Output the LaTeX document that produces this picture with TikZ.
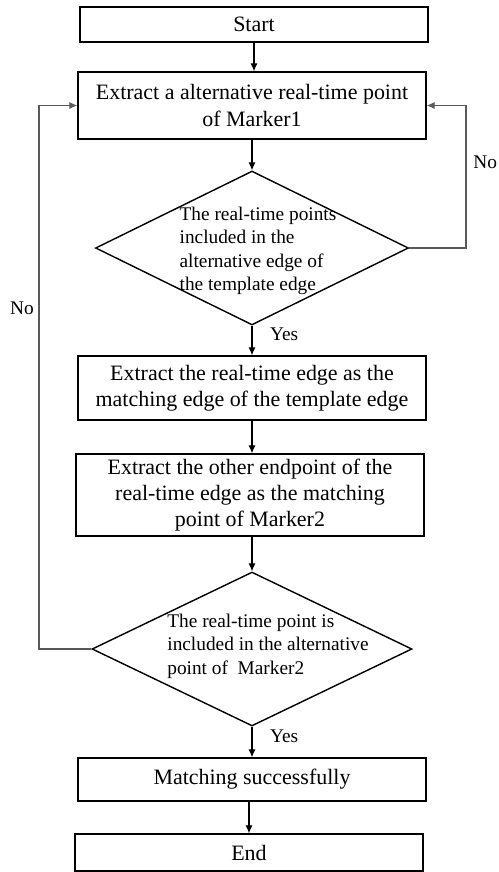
\documentclass[tikz,border=0pt]{standalone}
\usepackage{fontspec}
\setmainfont{Liberation Serif}
\usetikzlibrary{arrows.meta,shapes.geometric}

\begin{document}
\begin{tikzpicture}[x=0.02cm,y=-0.02cm,>={Latex[length=4.5pt,width=4pt]}]
        % Styles
        \tikzstyle{block} = [rectangle, draw, line width=0.8pt,
                             minimum width=6.96cm, inner sep=2pt, align=center,
                             font=\fontsize{12.5}{15}\selectfont]
        \tikzstyle{decision} = [diamond, draw, line width=0.8pt, inner sep=0pt,
                                minimum width=6.26cm, minimum height=3.08cm]
        \tikzstyle{dtext} = [align=left, inner sep=0pt, font=\fontsize{11}{13.3}\selectfont]
        \tikzstyle{tag} = [font=\fontsize{11}{13}\selectfont, inner sep=0pt]
        \tikzstyle{arrow} = [->, line width=0.6pt]
        \tikzstyle{loop} = [->, line width=0.6pt, draw=black!65]

        \useasboundingbox (0,0) rectangle (499,872);

        % ==== Nodes ====
        \node[block, minimum height=0.7cm]  (start)   at (254,24.5)  {Start};
        \node[block, minimum height=1.34cm] (extract) at (252,105.5) {Extract a alternative real-time point\\of Marker1};
        \node[decision] (check1) at (252,248) {};
        \node[dtext]    (check1txt) at (258,251) {The real-time points\\included in the\\alternative edge of\\the template edge};
        \node[block, minimum height=1.28cm] (edge)    at (252,388)   {Extract the real-time edge as the\\matching edge of the template edge};
        \node[block, minimum height=1.64cm] (endpt)   at (250,495)   {Extract the other endpoint of the\\real-time edge as the matching\\point of Marker2};
        \node[decision, minimum width=6.4cm] (check2) at (252,649) {};
        \node[dtext]    (check2txt) at (268,646) {The real-time point is\\included in the alternative\\point of \ Marker2};
        \node[block, minimum height=0.86cm] (match)   at (252,779.5) {Matching successfully};
        \node[block, minimum height=0.74cm] (finish)  at (249,852.5) {End};

        % turning points of the two loops
        \coordinate (rturn) at (466,248);
        \coordinate (lturn) at (39,649);

        % ==== Arrows ====
        \draw[arrow] (start) -- (start |- extract.north);
        \draw[arrow] (extract) -- (check1);
        \draw[arrow] (check1) -- (edge) node[tag, pos=0.3, anchor=west, xshift=10pt] (yes1) {Yes};
        \draw[arrow] (edge) -- (edge |- endpt.north);
        \draw[arrow] (endpt.south -| check2) -- (check2);
        \draw[arrow] (check2) -- (match) node[tag, pos=0.3, anchor=west, xshift=10pt] (yes2) {Yes};
        \draw[arrow] (match.south -| finish) -- (finish);

        % No branches back to Marker1
        \draw[loop] (check1.east) -- (rturn) |- (extract.east);
        \draw[loop] (check2.west) -- (lturn) |- (extract.west);
        \node[tag, anchor=west] (no1) at (473,162) {No};
        \node[tag] (no2) at (22,308) {No};
\end{tikzpicture}
\end{document}
